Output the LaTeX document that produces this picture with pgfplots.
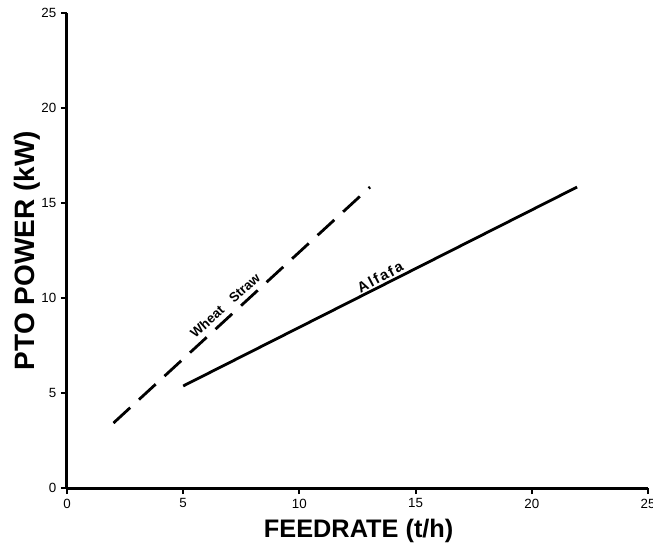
\documentclass[border=0pt]{standalone}
\usepackage{pgfplots}
\pgfplotsset{compat=1.18}
\usepackage{fontspec}
\setmainfont{Liberation Sans}

\begin{document}
\begin{tikzpicture}
\begin{axis}[
  name=ax,
  scale only axis,
  width=435.75pt, height=356.25pt,
  xmin=0, xmax=25, ymin=0, ymax=25,
  axis lines=left,
  axis line style={-, line width=2.25pt},
  xtick={0,5,...,25}, ytick={0,5,...,25},
  tick align=outside,
  major tick length=4.5pt,
  tick style={line width=1.5pt, black},
  ticklabel style={font=\fontsize{10}{10}\selectfont},
  /pgf/number format/assume math mode=true,
  xlabel={FEEDRATE (t/h)},
  ylabel={PTO POWER (kW)},
  xlabel style={font=\bfseries\fontsize{19}{19}\selectfont,
    at={(axis description cs:0.502,-0.091)}, anchor=center},
  ylabel style={font=\bfseries\fontsize{21}{21}\selectfont,
    at={(axis description cs:-0.069,0.5)}, anchor=center},
  clip=false,
]
% wheat straw
\addplot[black, line width=2.1pt, dash pattern=on 17pt off 9pt]
  coordinates {(2,3.42) (13.04,15.84)};
% alfalfa
\addplot[black, line width=2.1pt]
  coordinates {(5,5.37) (21.95,15.84)};

\node[rotate=42, font=\bfseries\fontsize{10}{10}\selectfont]
  at (axis cs:6.80,9.60) {Wheat\hspace{9pt}Straw};
\node[rotate=28, font=\bfseries\fontsize{11}{11}\selectfont\addfontfeature{LetterSpace=12}]
  at (axis cs:13.47,11.1) {Alfafa};
\end{axis}
\pgfresetboundingbox
\path[use as bounding box]
  ([xshift=-50.25pt,yshift=-43.5pt]ax.south west)
  rectangle ([xshift=3.75pt,yshift=9.75pt]ax.north east);
\end{tikzpicture}
\end{document}
